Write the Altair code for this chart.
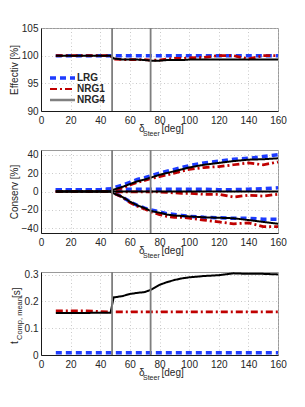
import altair as alt
import pandas as pd

X = [10, 20, 30, 40, 47, 49, 55, 60, 65, 70, 74, 80, 85, 90, 95, 100, 110, 120, 130, 140, 150, 160]
series = ["LRG", "NRG1", "NRG4"]
colors = ["#1e3cff", "#c00000", "#000000"]
legend_colors = ["#1e3cff", "#c00000", "#808080"]
vlines = [48, 74]

eff_lrg = [100, 100, 100, 100, 100, 100, 100, 100, 100, 100, 100, 100, 100, 100, 100, 100, 100, 100, 100, 100, 100, 100]
eff_nrg1 = [100, 100, 100, 100, 100, 99.4, 99.3, 99.3, 99.3, 99.3, 99.2, 99.2, 99.4, 99.5, 99.5, 99.6, 99.7, 100, 100, 99.4, 100, 100]
eff_nrg4 = [100, 100, 100, 100, 100, 99.5, 99.3, 99.3, 99.3, 99.2, 99.1, 99.1, 99.2, 99.2, 99.2, 99.3, 99.3, 99.3, 99.3, 99.3, 99.3, 99.3]

con_lrg_up = [2, 2, 2, 2, 3, 4, 7, 10, 13, 15, 17, 20, 22, 24, 26, 28, 31, 33, 35, 36, 38, 40]
con_lrg_mid = [2, 2, 2, 2, 2.5, 2.5, 2.5, 2.5, 2.5, 2.5, 2.5, 2.5, 2.5, 2.5, 2.5, 2.5, 2.5, 2, 2, 2.5, 3, 4]
con_lrg_lo = [2, 2, 2, 2, 1, -1, -6, -11, -15, -18, -20, -22, -24, -25, -26, -27, -28, -28.5, -29, -29, -30, -30]
con_n1_up = [0, 0, 0, 0, 0, 1, 4, 7, 10, 12, 14, 16, 18, 20, 22, 24, 26, 27, 29, 31, 29, 32]
con_n1_mid = [0, 0, 0, 0, 0, -0.5, -0.5, -0.5, -0.5, -0.5, -0.5, -0.5, -1, -1.5, -2, -2, -3, -3, -6, -4, -5, -3]
con_n1_lo = [0, 0, 0, 0, 0, -2, -6, -12, -16, -19, -22, -25, -27, -28, -28, -29, -31, -33, -35, -34, -38, -38]
con_n4_up = [0, 0, 0, 0, 0, 2, 5, 8, 11, 13, 15, 18, 20, 22, 24, 26, 29, 31, 33, 34.5, 35, 36]
con_n4_mid = [0, 0, 0, 0, 0, 0, 0, 0, 0, 0, 0, 0, 0, 0, 0, 0, 0, 0, 0, 0, 0, 0]
con_n4_lo = [0, 0, 0, 0, 0, -2, -6, -11, -15, -18, -21, -23, -25, -26, -26.5, -27, -28, -28.5, -29, -31, -33, -35]

t_lrg = [0.008, 0.008, 0.008, 0.008, 0.008, 0.008, 0.008, 0.008, 0.008, 0.008, 0.008, 0.008, 0.008, 0.008, 0.008, 0.008, 0.008, 0.008, 0.008, 0.008, 0.008, 0.008]
t_nrg1 = [0.165, 0.165, 0.165, 0.162, 0.161, 0.161, 0.161, 0.161, 0.161, 0.161, 0.161, 0.161, 0.161, 0.161, 0.161, 0.161, 0.161, 0.161, 0.161, 0.161, 0.161, 0.161]
t_nrg4 = [0.157, 0.157, 0.157, 0.158, 0.158, 0.215, 0.22, 0.228, 0.232, 0.235, 0.243, 0.262, 0.272, 0.28, 0.286, 0.29, 0.295, 0.298, 0.305, 0.303, 0.303, 0.301]

x_ticks = [0, 20, 40, 60, 80, 100, 120, 140, 160]
eff_ticks = [90, 95, 100, 105]
con_ticks = [-40, -20, 0, 20, 40]
t_ticks = [0, 0.1, 0.2, 0.3]


def long(groups):
    rows = []
    for s, g, vals in groups:
        for x, v in zip(X, vals):
            rows.append({"x": x, "v": v, "s": s, "g": s + g})
    return pd.DataFrame(rows)


df1 = long([("LRG", "", eff_lrg), ("NRG1", "", eff_nrg1), ("NRG4", "", eff_nrg4)])
df2 = long([
    ("LRG", "u", con_lrg_up), ("LRG", "m", con_lrg_mid), ("LRG", "l", con_lrg_lo),
    ("NRG1", "u", con_n1_up), ("NRG1", "m", con_n1_mid), ("NRG1", "l", con_n1_lo),
    ("NRG4", "u", con_n4_up), ("NRG4", "m", con_n4_mid), ("NRG4", "l", con_n4_lo),
])
df3 = long([("LRG", "", t_lrg), ("NRG1", "", t_nrg1), ("NRG4", "", t_nrg4)])

W, H = 237, 83
FONT = "Liberation Sans"


def panel(df, domain, ticks, ytitle, fmt):
    def xax():
        return alt.X("x:Q", scale=alt.Scale(domain=[0, 160], nice=False),
                     axis=alt.Axis(values=x_ticks, title=None, labelPadding=4, labelOverlap=False, labelFlush=False))
    if ytitle:
        yaxis = alt.Axis(values=ticks, format=fmt, title=ytitle, titleX=-22, titleY=H / 2, labelPadding=3,
                         labelOverlap=False, labelFlush=False)
    else:
        yaxis = alt.Axis(values=ticks, format=fmt, title=None, labelPadding=3, labelOverlap=False, labelFlush=False)
    yax = alt.Y("v:Q", scale=alt.Scale(domain=domain, nice=False, zero=False), axis=yaxis)
    lines = alt.Chart(df).mark_line(clip=True).encode(
        x=xax(), y=yax,
        color=alt.Color("s:N", scale=alt.Scale(domain=series, range=colors), legend=None),
        strokeDash=alt.StrokeDash("s:N", scale=alt.Scale(domain=series, range=[[6, 4], [7, 3, 2, 3], [1, 0]]), legend=None),
        strokeWidth=alt.StrokeWidth("s:N", scale=alt.Scale(domain=series, range=[3.5, 2, 1.1]), legend=None),
        detail="g:N",
    )
    rules = alt.Chart(pd.DataFrame({"x": vlines})).mark_rule(color="#7f7f7f", strokeWidth=1.8).encode(x=xax())
    t1 = alt.Chart(pd.DataFrame({"t": ["δ"]})).mark_text(align="left", baseline="middle", fontSize=10, font=FONT, color="#262626").encode(
        x=alt.value(98), y=alt.value(H + 18), text="t:N")
    t2 = alt.Chart(pd.DataFrame({"t": ["Steer"]})).mark_text(align="left", baseline="middle", fontSize=7, font=FONT, color="#262626").encode(
        x=alt.value(102), y=alt.value(H + 22.5), text="t:N")
    t3 = alt.Chart(pd.DataFrame({"t": ["[deg]"]})).mark_text(align="left", baseline="middle", fontSize=10, font=FONT, color="#262626").encode(
        x=alt.value(120.5), y=alt.value(H + 18), text="t:N")
    return [lines, rules, t1, t2, t3]


p1 = panel(df1, [90, 105], eff_ticks, "Effectiv [%]", "d")
leg = []
styles = [([6, 4], 3.5), ([7, 3, 2, 3], 2), ([1, 0], 2.5)]
for i, s in enumerate(series):
    dash, sw = styles[i]
    leg.append(alt.Chart(pd.DataFrame({"s": [s]})).mark_rule(color=legend_colors[i], strokeDash=dash, strokeWidth=sw).encode(
        x=alt.value(9), x2=alt.value(34), y=alt.value(50 + 11 * i)))
    leg.append(alt.Chart(pd.DataFrame({"s": [s]})).mark_text(align="left", baseline="middle", fontSize=10, fontWeight="bold", font=FONT, color="#262626").encode(
        x=alt.value(36), y=alt.value(50 + 11 * i), text="s:N"))
c1 = alt.layer(*p1, *leg).properties(width=W, height=H)

p2 = panel(df2, [-45, 45], con_ticks, "Conserv [%]", "d")
c2 = alt.layer(*p2).properties(width=W, height=H)

p3 = panel(df3, [0, 0.31], t_ticks, None, "~g")
yt1 = alt.Chart(pd.DataFrame({"t": ["t"]})).mark_text(align="left", baseline="alphabetic", angle=270, fontSize=10, font=FONT, color="#262626").encode(
    x=alt.value(-23), y=alt.value(72), text="t:N")
yt2 = alt.Chart(pd.DataFrame({"t": ["Comp, mean"]})).mark_text(align="left", baseline="alphabetic", angle=270, fontSize=7.5, font=FONT, color="#262626").encode(
    x=alt.value(-19), y=alt.value(68), text="t:N")
yt3 = alt.Chart(pd.DataFrame({"t": ["[s]"]})).mark_text(align="left", baseline="alphabetic", angle=270, fontSize=10, font=FONT, color="#262626").encode(
    x=alt.value(-21), y=alt.value(26), text="t:N")
c3 = alt.layer(*p3, yt1, yt2, yt3).properties(width=W, height=H)

chart = alt.vconcat(c1, c2, c3, spacing=39, bounds="flush").properties(
    padding={"left": 0, "top": 14, "right": 5, "bottom": 5},
    background="white",
).configure_view(
    stroke="#9a9a9a", strokeWidth=1
).configure_axis(
    labelFont=FONT, labelFontSize=10, labelColor="#262626",
    titleFont=FONT, titleFontSize=10, titleColor="#262626", titleFontWeight="normal",
    domainColor="#1a1a1a", domainWidth=1, ticks=False, labelOverlap=False,
    gridColor="#bdbdbd", gridDash=[1, 2.5], gridWidth=0.8,
)

chart.save("out.html", embed_options={"renderer": "svg", "actions": False})
